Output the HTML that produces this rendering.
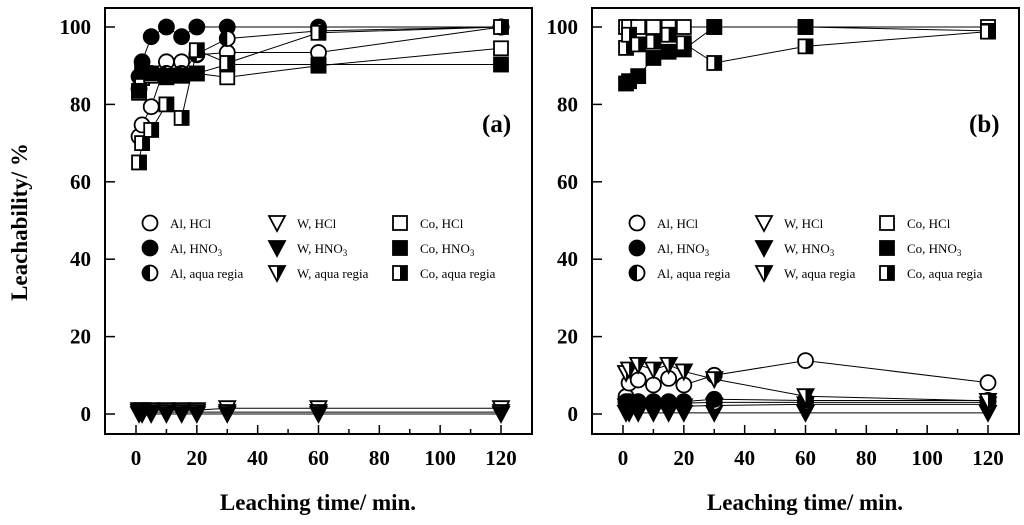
<!DOCTYPE html>
<html><head><meta charset="utf-8"><style>
body{margin:0;background:#fff;}
svg{display:block;font-family:"Liberation Serif",serif;}
</style></head><body>
<svg id="chart" width="1024" height="525"></svg>
<script>
const times=[1,2,5,10,15,20,30,60,120];
const xTicks=[0,20,40,60,80,100,120];
const yTicks=[0,20,40,60,80,100];
// Panel (a) values
const aAlHCl=[71.7,74.7,79.4,91,91,92.8,93.4,93.4,100];
const aAlHNO3=[87.2,91,97.5,100,97.5,100,100,100,100];
const aAlAqua=[84,87,88,88,88,93,97,99,100];
const aWHCl=[1,1,1,1,1,1,1.5,1.5,1.5];
const aWHNO3=[0,0,0,0,0,0,0,0,0];
const aWAqua=[0.5,0.5,0.5,0.5,0.5,0.5,0.5,0.5,0.5];
const aCoHCl=[83,86.8,87.4,87.4,87.4,88,87,90,94.5];
const aCoHNO3=[83.5,88.4,88,87,87.5,88,90.3,90.3,90.3];
const aCoAqua=[65,70,73.4,80,76.5,94,90.7,98.5,100];
// Panel (b) values
const bAlHCl=[4.5,8,8.8,7.5,9.2,7.5,10,13.8,8.1];
const bAlHNO3=[3.2,3.2,3.2,3.2,3.2,3.2,3.8,3.5,3.5];
const bAlAqua=[2.8,2.8,2.8,2.8,2.8,2.8,3,3,3];
const bWHCl=[2,2,2,2,2,2,2.2,2.5,2.5];
const bWHNO3=[0.3,0.3,0.3,0.3,0.3,0.3,0.3,0.3,0.3];
const bWAqua=[10.6,11.5,12.7,11.5,12.7,11,9,4.6,3.4];
const bCoHCl=[100,100,100,100,100,100,100,100,100];
const bCoHNO3=[85.4,86,87.3,92,93.6,94.2,100,100,99];
const bCoAqua=[94.6,98,95.5,96.2,98,95.8,90.7,95,98.8];

const NS="http://www.w3.org/2000/svg";
const svg=document.getElementById('chart');
function mk(tag,attrs,parent){const e=document.createElementNS(NS,tag);for(const k in attrs)e.setAttribute(k,attrs[k]);(parent||svg).appendChild(e);return e;}

function marker(g,type,cx,cy){
  const grp=mk('g',{},g);
  if(type[0]==='c'){
    const r=7.5;
    if(type==='c-half'){
      mk('circle',{cx,cy,r,fill:'#fff',stroke:'#000','stroke-width':1.8},grp);
      mk('path',{d:`M${cx},${cy-r} A${r},${r} 0 0 0 ${cx},${cy+r} Z`,fill:'#000'},grp);
    } else mk('circle',{cx,cy,r,fill:type==='c-fill'?'#000':'#fff',stroke:'#000','stroke-width':1.8},grp);
  } else if(type[0]==='s'){
    const h=7;
    mk('rect',{x:cx-h,y:cy-h,width:2*h,height:2*h,fill:type==='s-fill'?'#000':'#fff',stroke:'#000','stroke-width':1.8},grp);
    if(type==='s-half') mk('rect',{x:cx,y:cy-h,width:h,height:2*h,fill:'#000'},grp);
  } else {
    const w=8,t=cy-7,b=cy+8;
    mk('path',{d:`M${cx-w},${t} L${cx+w},${t} L${cx},${b} Z`,fill:type==='t-fill'?'#000':'#fff',stroke:'#000','stroke-width':1.8,'stroke-linejoin':'miter'},grp);
    if(type==='t-half') mk('path',{d:`M${cx},${t} L${cx+w},${t} L${cx},${b} Z`,fill:'#000'},grp);
  }
  return grp;
}

function panel(x0,label,series,name){
  const L=x0,R=x0+427,T=8,B=434;
  const g=mk('g',{});
  
  
  const xs=t=>L+31+t*365/120;
  const ys=v=>414-v*3.87;
  const frame=mk('rect',{x:L,y:T,width:R-L,height:B-T,fill:'none',stroke:'#000','stroke-width':2},g);
  
  
  yTicks.forEach(v=>{
    mk('line',{x1:L,x2:L+10,y1:ys(v),y2:ys(v),stroke:'#000','stroke-width':1.5},g);
    const t=mk('text',{x:L-14,y:ys(v)+7,'text-anchor':'end','font-size':21,'font-weight':'bold'},g);
    t.textContent=v;
    
    
  });
  for(let v=0;v<=120;v+=10){
    mk('line',{x1:xs(v),x2:xs(v),y1:B,y2:B-(v%20===0?9:5),stroke:'#000','stroke-width':1.5},g);
  }
  xTicks.forEach(v=>{
    const t=mk('text',{x:xs(v),y:465,'text-anchor':'middle','font-size':21,'font-weight':'bold'},g);
    t.textContent=v;
    
    
  });
  const xl=mk('text',{x:L+213,y:510,'text-anchor':'middle','font-size':23,'font-weight':'bold'},g);
  xl.textContent='Leaching time/ min.';
  
  
  const pl=mk('text',{x:R-50,y:132,'font-size':25,'font-weight':'bold'},g);
  pl.textContent=label;
  
  
  series.forEach(s=>{
    const sg=mk('g',{},g);
    
    
    mk('polyline',{points:times.map((t,i)=>xs(t)+','+ys(s.v[i])).join(' '),fill:'none',stroke:'#000','stroke-width':1},sg);
  });
  series.forEach(s=>{
    const sg=mk('g',{},g);
    times.forEach((t,i)=>{
      const m=marker(sg,s.m,xs(t),ys(s.v[i]));
      
      
    });
  });
  const lg=mk('g',{},g);
  
  
  const cols=[L+45,L+172,L+295];
  const items=[['c-open','Al, HCl'],['c-fill','Al, HNO3'],['c-half','Al, aqua regia'],
               ['t-open','W, HCl'],['t-fill','W, HNO3'],['t-half','W, aqua regia'],
               ['s-open','Co, HCl'],['s-fill','Co, HNO3'],['s-half','Co, aqua regia']];
  items.forEach((it,k)=>{
    const cx=cols[Math.floor(k/3)],cy=223+(k%3)*25;
    const e=mk('g',{},lg);
    
    
    marker(e,it[0],cx,cy);
    const t=mk('text',{x:cx+20,y:cy+5,'font-size':13},e);
    if(it[1].endsWith('HNO3')){t.textContent=it[1].slice(0,-1);const s=mk('tspan',{'font-size':9,dy:3},t);s.textContent='3';}
    else t.textContent=it[1];
  });
}

panel(105,'(a)',[
 {id:'w-hcl',m:'t-open',v:aWHCl},{id:'w-aqua',m:'t-half',v:aWAqua},{id:'w-hno3',m:'t-fill',v:aWHNO3},
 {id:'al-hcl',m:'c-open',v:aAlHCl},{id:'al-hno3',m:'c-fill',v:aAlHNO3},{id:'al-aqua',m:'c-half',v:aAlAqua},
 {id:'co-hcl',m:'s-open',v:aCoHCl},{id:'co-hno3',m:'s-fill',v:aCoHNO3},{id:'co-aqua',m:'s-half',v:aCoAqua}],'panel-a');
panel(592,'(b)',[
 {id:'w-hcl',m:'t-open',v:bWHCl},{id:'w-hno3',m:'t-fill',v:bWHNO3},
 {id:'al-hcl',m:'c-open',v:bAlHCl},{id:'al-aqua',m:'c-half',v:bAlAqua},{id:'al-hno3',m:'c-fill',v:bAlHNO3},
 {id:'w-aqua',m:'t-half',v:bWAqua},
 {id:'co-hcl',m:'s-open',v:bCoHCl},{id:'co-hno3',m:'s-fill',v:bCoHNO3},{id:'co-aqua',m:'s-half',v:bCoAqua}],'panel-b');

const yl=mk('text',{x:0,y:0,transform:'translate(27,222) rotate(-90)','text-anchor':'middle','font-size':23,'font-weight':'bold'});
yl.textContent='Leachability/ %';


</script>
</body></html>
